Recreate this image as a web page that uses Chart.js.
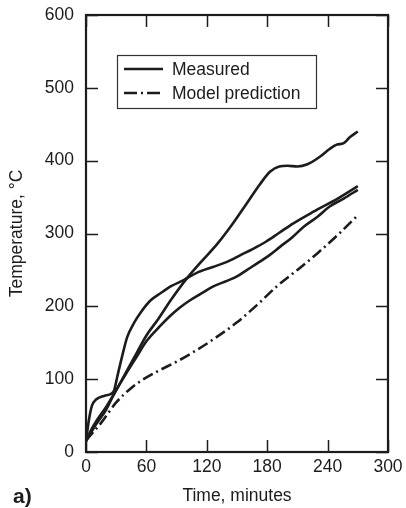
<!DOCTYPE html>
<html>
<head>
<meta charset="utf-8">
<script src="https://cdn.jsdelivr.net/npm/chart.js@4.4.0/dist/chart.umd.min.js"></script>
<style>
html,body{margin:0;padding:0;background:#fff;}
#wrap{width:406px;height:508px;position:relative;}
</style>
</head>
<body>
<div id="wrap"><canvas id="c" width="406" height="508"></canvas></div>
<script>
// ---- data (time in minutes, temperature in °C) ----
const seriesNames = ["Measured", "Model prediction"];
const xTicks = [0, 60, 120, 180, 240, 300];
const yTicks = [0, 100, 200, 300, 400, 500, 600];

const measAT = [0, 5, 10, 20, 28, 40, 50, 60, 72, 85, 100, 115, 130, 145, 160, 173, 183, 192, 200, 210, 220, 232, 242, 249, 256, 262, 270];
const measAV = [15, 30, 42, 62, 80, 110, 135, 160, 183, 210, 238, 262, 285, 312, 342, 368, 385, 392, 393, 392, 395, 405, 416, 422, 424, 432, 440];

const measBT = [0, 3, 6, 10, 18, 25, 28, 31, 36, 41, 48, 54, 64, 74, 85, 97, 110, 126, 140, 153, 166, 179, 192, 206, 226, 250, 270];
const measBV = [15, 45, 64, 72, 77, 80, 85, 103, 132, 158, 178, 191, 208, 218, 228, 236, 246, 254, 261, 270, 279, 289, 301, 314, 330, 348, 365];

const measCT = [0, 10, 20, 28, 40, 50, 60, 73, 83, 93, 103, 115, 126, 140, 150, 160, 170, 182, 193, 205, 216, 230, 242, 256, 270];
const measCV = [15, 38, 58, 80, 108, 130, 152, 172, 186, 198, 208, 218, 227, 235, 241, 250, 259, 270, 282, 295, 309, 323, 337, 348, 360];

const modelT = [0, 15, 30, 45, 55, 70, 90, 110, 130, 150, 170, 190, 210, 230, 250, 270];
const modelV = [16, 40, 68, 88, 98, 110, 124, 140, 158, 178, 202, 228, 250, 273, 298, 325];

function pts(xs, ys){ return xs.map((x,i)=>({x:x, y:ys[i]})); }

const INK = '#1c1c1c';
const FONT = 'Liberation Sans, Arial, Helvetica, sans-serif';
const FS = 17.5;

const frameTicks = {
  id: 'frameTicks',
  afterDatasetsDraw(chart){
    const {ctx, chartArea:a, scales:{x, y}} = chart;
    ctx.save();
    ctx.strokeStyle = INK;
    ctx.lineWidth = 1.5;
    const TL = 12;
    xTicks.forEach(v=>{
      const px = Math.round(x.getPixelForValue(v)) + 0.5;
      ctx.beginPath();
      ctx.moveTo(px, a.bottom); ctx.lineTo(px, a.bottom - TL);
      ctx.moveTo(px, a.top); ctx.lineTo(px, a.top + TL);
      ctx.stroke();
    });
    yTicks.forEach(v=>{
      const py = Math.round(y.getPixelForValue(v)) + 0.5;
      ctx.beginPath();
      ctx.moveTo(a.left, py); ctx.lineTo(a.left + TL, py);
      ctx.moveTo(a.right, py); ctx.lineTo(a.right - TL, py);
      ctx.stroke();
    });
    ctx.lineWidth = 2.2;
    ctx.strokeRect(a.left, a.top, a.right - a.left, a.bottom - a.top);

    // legend
    const lx = a.left + 31, ly = a.top + 40, lw = 199, lh = 53;
    ctx.fillStyle = '#fff';
    ctx.fillRect(lx, ly, lw, lh);
    ctx.strokeStyle = '#333';
    ctx.lineWidth = 1.2;
    ctx.strokeRect(lx + 0.5, ly + 0.5, lw, lh);
    const rows = [ly + 14, ly + 38];
    const sx0 = lx + 7, sx1 = lx + 46;
    ctx.strokeStyle = INK;
    ctx.lineWidth = 2.6;
    ctx.setLineDash([]);
    ctx.beginPath(); ctx.moveTo(sx0, rows[0]); ctx.lineTo(sx1, rows[0]); ctx.stroke();
    ctx.setLineDash([13, 4, 2, 4]);
    ctx.beginPath(); ctx.moveTo(sx0, rows[1]); ctx.lineTo(sx1, rows[1]); ctx.stroke();
    ctx.setLineDash([]);
    ctx.fillStyle = INK;
    ctx.font = FS + 'px ' + FONT;
    ctx.textBaseline = 'middle';
    ctx.textAlign = 'left';
    ctx.fillText(seriesNames[0], lx + 55, rows[0] + 1);
    ctx.fillText(seriesNames[1], lx + 55, rows[1] + 1);

    // panel label
    ctx.font = 'bold 21px "Liberation Sans Narrow", "Liberation Sans", Arial, sans-serif';
    ctx.fillText('a)', 13, 497);
    ctx.restore();
  }
};

const lineBase = {
  borderColor: INK,
  borderWidth: 2.6,
  pointRadius: 0,
  fill: false,
  tension: 0.4,
  cubicInterpolationMode: 'monotone'
};

new Chart(document.getElementById('c'), {
  type: 'line',
  data: {
    datasets: [
      Object.assign({label: seriesNames[0], data: pts(measAT, measAV)}, lineBase),
      Object.assign({label: seriesNames[0] + ' 2', data: pts(measBT, measBV)}, lineBase),
      Object.assign({label: seriesNames[0] + ' 3', data: pts(measCT, measCV)}, lineBase),
      Object.assign({label: seriesNames[1], data: pts(modelT, modelV), borderDash: [11, 4, 2, 4]}, lineBase)
    ]
  },
  options: {
    responsive: false,
    animation: false,
    layout: {padding: {left: 0, top: 15, right: 18, bottom: 0}},
    plugins: {legend: {display: false}, tooltip: {enabled: false}},
    scales: {
      x: {
        type: 'linear', min: 0, max: 300,
        afterBuildTicks(s){ s.ticks = xTicks.map(v=>({value:v})); },
        afterFit(s){ s.height = 56; s.paddingLeft = 0; s.paddingRight = 0; },
        grid: {display: false, drawTicks: false},
        border: {display: false},
        ticks: {color: INK, font: {family: FONT, size: FS}, padding: 5, maxRotation: 0},
        title: {display: true, text: 'Time, minutes', color: INK, font: {family: FONT, size: FS}, padding: {top: 0, bottom: 1}}
      },
      y: {
        type: 'linear', min: 0, max: 600,
        afterBuildTicks(s){ s.ticks = yTicks.map(v=>({value:v})); },
        afterFit(s){ s.width = 86; s.paddingTop = 0; s.paddingBottom = 0; },
        grid: {display: false, drawTicks: false},
        border: {display: false},
        ticks: {color: INK, font: {family: FONT, size: FS}, padding: 12},
        title: {display: true, text: 'Temperature, °C', color: INK, font: {family: FONT, size: FS}, padding: {top: 7, bottom: 0}}
      }
    }
  },
  plugins: [frameTicks]
});
</script>
</body>
</html>
